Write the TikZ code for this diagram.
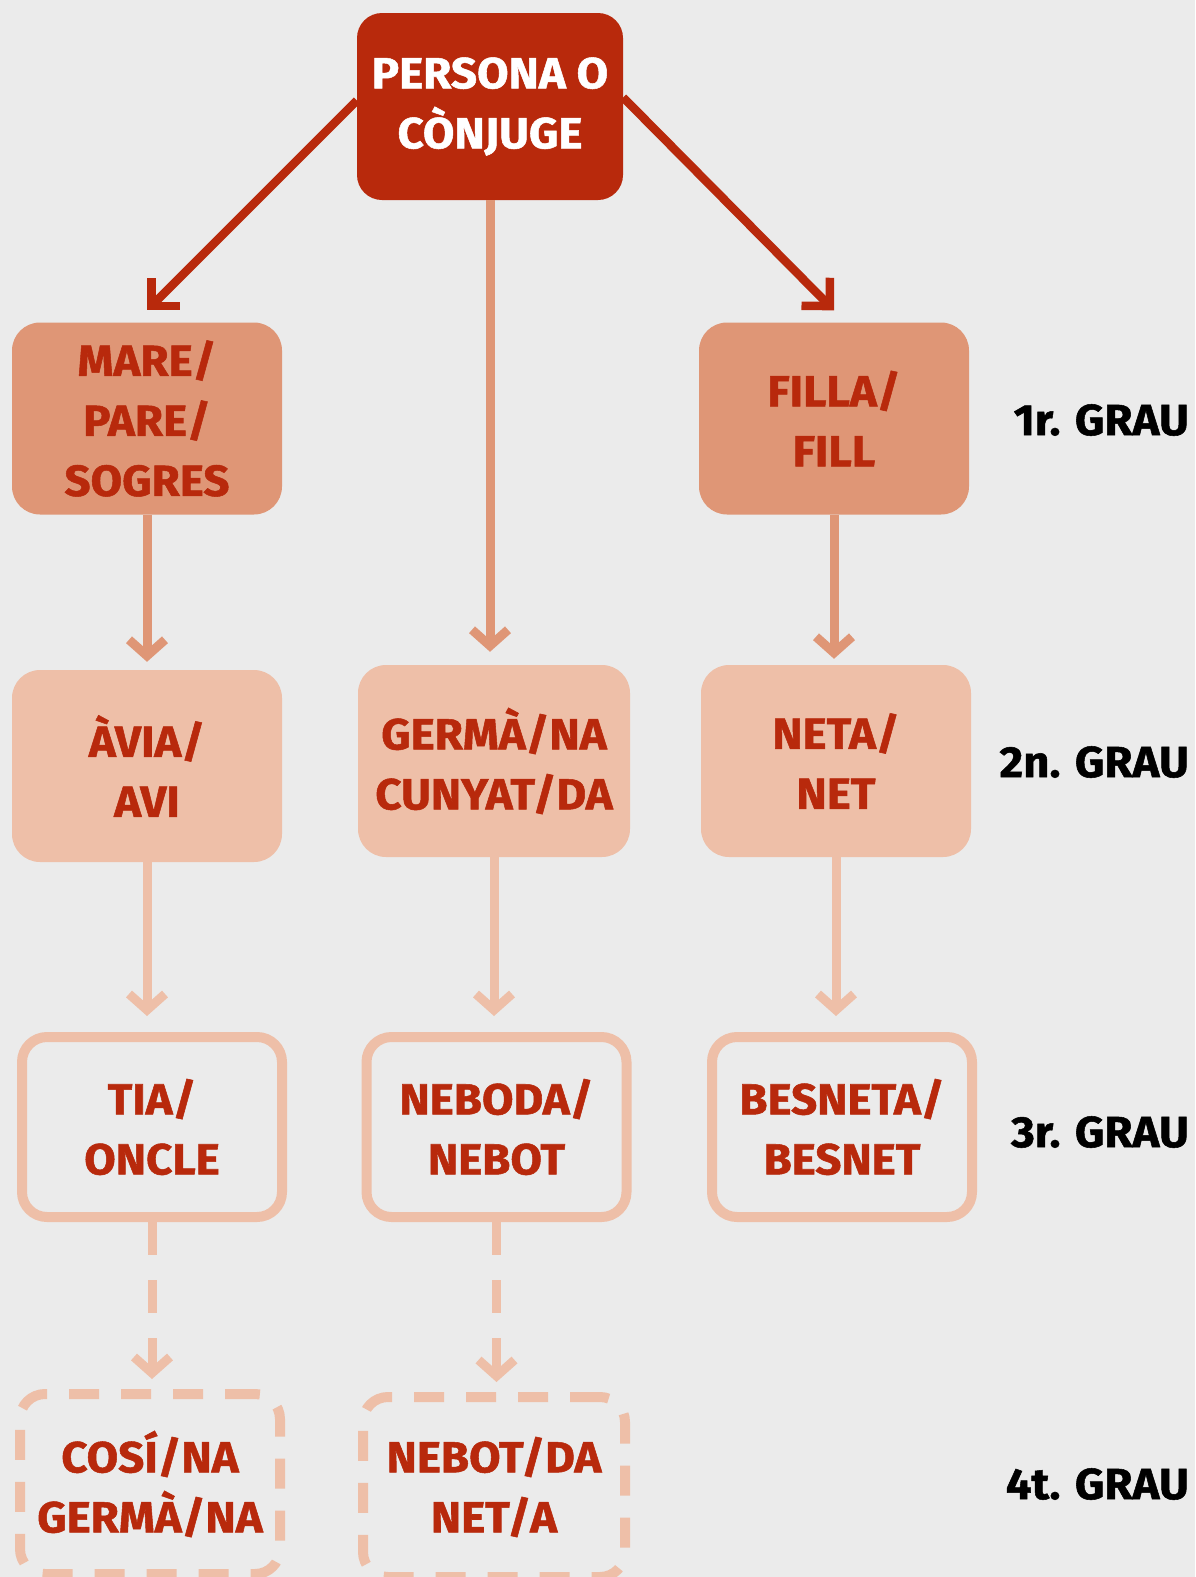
\documentclass[tikz,border=0pt]{standalone}
\usepackage{fontspec}
\setmainfont{Fira Sans}[BoldFeatures={FakeStretch=1.05, FakeBold=1.2}]
\usetikzlibrary{arrows.meta, positioning}
\definecolor{bggrey}{HTML}{EBEBEB}
\definecolor{deepred}{HTML}{B8290C}
\definecolor{salmon}{HTML}{DF9676}
\definecolor{peach}{HTML}{EEBFA8}

\begin{document}
\begin{tikzpicture}[x=1pt, y=-1pt,
    every node/.style={font=\fontsize{43.5}{60}\selectfont\bfseries, align=center, text=deepred, inner sep=0pt},
    box/.style={rounded corners=28pt, minimum width=270pt, minimum height=192pt},
    ring/.style={draw=peach, line width=10pt, rounded corners=25pt, minimum width=260pt, minimum height=180pt},
    dashring/.style={ring, dash pattern=on 30pt off 22pt},
    grade/.style={text=black, anchor=east},
    redlink/.style={draw=deepred, line width=8.5pt, -{Straight Barb[length=20pt, width=40pt]}},
    link/.style={line width=9pt, -{Straight Barb[length=16pt, width=36pt]}},
    dashlink/.style={link, dash pattern=on 33pt off 25pt}]
    % background and page size
    \fill[bggrey] (0,0) rectangle (1195,1577);
    \useasboundingbox (0,0) rectangle (1195,1577);

    % top
    \node[box, fill=deepred, text=white, minimum width=266pt, minimum height=187pt, rounded corners=25pt] (per) at (490,106.5) {PERSONA O\\CÒNJUGE};

    % first degree
    \node[box, fill=salmon] (pares) at (147,418.5) {MARE/\\PARE/\\SOGRES};
    \node[box, fill=salmon] (fills) at (834,418.5) {FILLA/\\FILL};

    % second degree
    \node[box, fill=peach] (avis) at (147,766) {ÀVIA/\\AVI};
    \node[box, fill=peach, minimum width=272pt] (germans) at (494,761) {GERMÀ/NA\\CUNYAT/DA};
    \node[box, fill=peach] (netes) at (836,761) {NETA/\\NET};

    % third degree
    \node[ring] (oncles) at (152,1127) {TIA/\\ONCLE};
    \node[ring] (nebots) at (496.5,1127) {NEBODA/\\NEBOT};
    \node[ring] (besnets) at (842,1127) {BESNETA/\\BESNET};

    % fourth degree
    \node[dashring] (cosins) at (150,1484) {COSÍ/NA\\GERMÀ/NA};
    \node[dashring, minimum width=262pt] (nets) at (494,1487) {NEBOT/DA\\NET/A};

    % grades
    \node[grade] (g1) at (1189,420) {1r. GRAU};
    \node[grade] (g2) at (1189,762) {2n. GRAU};
    \node[grade] (g3) at (1189,1132) {3r. GRAU};
    \node[grade] (g4) at (1189,1484) {4t. GRAU};

    % arrows from the person
    \draw[redlink] ([yshift=6pt]per.west) -- ([yshift=12pt]pares.north);
    \draw[redlink] ([yshift=9pt]per.east) -- ([yshift=12pt]fills.north);
    \draw[link, salmon, shorten >=13pt] (per.south) -- (per.south |- germans.north);

    % down the columns
    \draw[link, salmon, shorten >=8pt] (pares.south) -- (avis.north);
    \draw[link, salmon, shorten >=6pt] (fills.south) -- (fills.south |- netes.north);
    \draw[link, peach, shorten >=16pt] (avis.south) -- (avis.south |- oncles.north);
    \draw[link, peach, shorten >=16pt] (germans.south) -- (germans.south |- nebots.north);
    \draw[link, peach, shorten >=16pt] (netes.south) -- (netes.south |- besnets.north);
    \draw[dashlink, peach, shorten >=10pt] (oncles.south) -- (oncles.south |- cosins.north);
    \draw[dashlink, peach, shorten >=10pt] (nebots.south) -- (nebots.south |- nets.north);
\end{tikzpicture}
\end{document}
